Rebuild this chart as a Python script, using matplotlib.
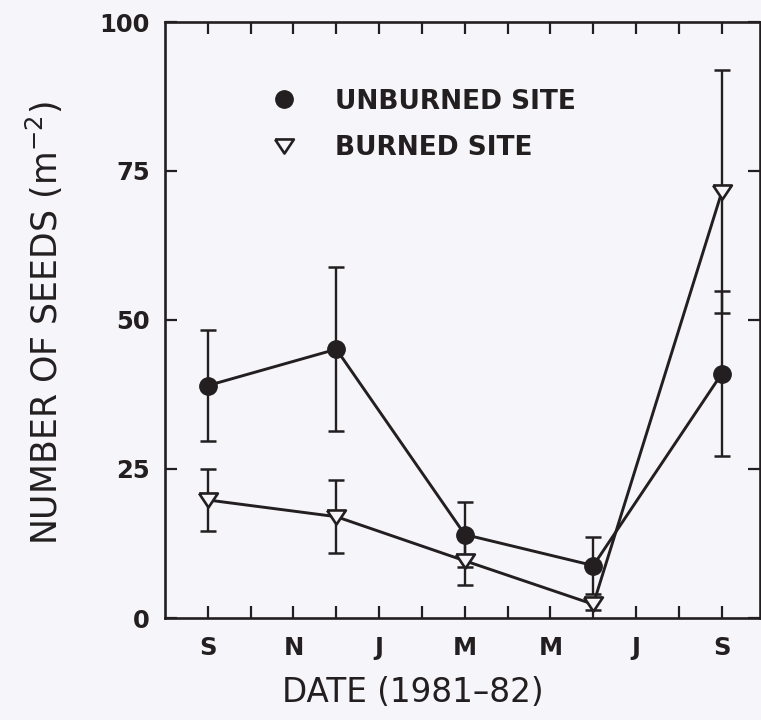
import matplotlib
matplotlib.use("Agg")
import matplotlib.pyplot as plt
from matplotlib.lines import Line2D

# ---- data ----
months = [0, 3, 6, 9, 12]          # months since Sept 1981
unburned = [39.0, 45.1, 14.0, 8.8, 41.0]
unburned_err = [9.3, 13.8, 5.4, 4.8, 13.8]
burned = [19.8, 17.0, 9.6, 2.3, 71.5]
burned_err = [5.2, 6.1, 4.0, 1.0, 20.4]
month_ticks = list(range(13))
month_labels = ['S', '', 'N', '', 'J', '', 'M', '', 'M', '', 'J', '', 'S']
y_ticks = [0, 25, 50, 75, 100]

ink = '#231f20'
bg = '#f6f5f9'
plt.rcParams['font.family'] = ['DejaVu Sans']

fig = plt.figure(figsize=(7.61, 7.2), dpi=100, facecolor=bg)
ax = fig.add_axes([165/761, 1-618/720, (759.5-165)/761, (618-22)/720])
ax.set_facecolor(bg)

tri = [(-1, 0.75), (1, 0.75), (0, -0.75), (-1, 0.75)]

ax.errorbar(months, unburned, yerr=unburned_err, fmt='none', ecolor=ink,
            elinewidth=1.7, capsize=6, capthick=1.8, zorder=2)
ax.errorbar(months, burned, yerr=burned_err, fmt='none', ecolor=ink,
            elinewidth=1.7, capsize=6, capthick=1.8, zorder=2)
ax.plot(months, unburned, color=ink, lw=2.1, marker='o', ms=12.5,
        mfc=ink, mec=ink, zorder=3)
ax.plot(months, burned, color=ink, lw=2.1, marker=tri, ms=13.5,
        mfc=bg, mec=ink, mew=1.9, zorder=4)

ax.set_xlim(-1.0, 12.88)
ax.set_ylim(0, 100)
ax.set_xticks(month_ticks)
ax.set_xticklabels(month_labels)
ax.set_yticks(y_ticks)
ax.tick_params(axis='both', direction='in', length=8.5, width=1.6, colors=ink,
               top=True, right=True, labelsize=17.5)
ax.tick_params(axis='x', pad=13)
ax.tick_params(axis='y', pad=11)
for lab in ax.get_xticklabels() + ax.get_yticklabels():
    lab.set_fontweight('bold')
for s in ax.spines.values():
    s.set_linewidth(1.9)
    s.set_color(ink)

ax.set_ylabel(r'NUMBER OF SEEDS ($\mathregular{m^{-2}}$)', fontsize=25,
              color=ink)
ax.yaxis.set_label_coords(-0.168, 0.495)
fig.text(413/761, 1-693/720, 'DATE (1981\u201382)', fontsize=23.5, color=ink,
         ha='center', va='center')

handles = [Line2D([], [], ls='none', marker='o', ms=12.5, mfc=ink, mec=ink),
           Line2D([], [], ls='none', marker=tri, ms=13.5, mfc=bg, mec=ink, mew=1.9)]
leg = ax.legend(handles, ['UNBURNED SITE', 'BURNED SITE'], loc='upper left',
                bbox_to_anchor=(0.138, 0.928), frameon=False,
                prop={'size': 19, 'weight': 'bold'},
                handletextpad=1.43, labelspacing=0.77, handlelength=1.0,
                labelcolor=ink)

fig.savefig('out.png', dpi=100, facecolor=bg)
